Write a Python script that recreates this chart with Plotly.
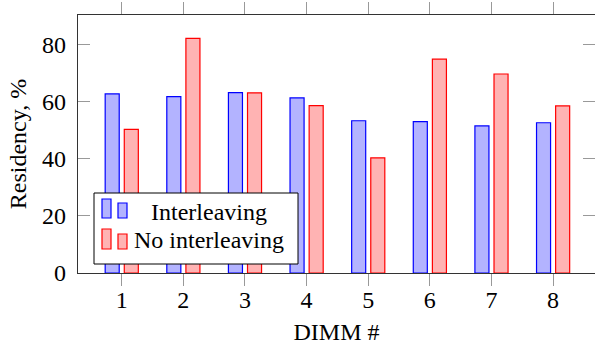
import plotly.graph_objects as go

dimms = [1, 2, 3, 4, 5, 6, 7, 8]
interleaving = [62.8, 61.9, 63.3, 61.4, 53.4, 53.1, 51.6, 52.7]
no_interleaving = [50.4, 82.3, 63.2, 58.7, 40.4, 75.0, 69.8, 58.6]
series_names = ["Interleaving", "No interleaving"]
y_ticks = [0, 20, 40, 60, 80]

FONT = "Liberation Serif"
FS = 24
BLUE_FILL, BLUE_LINE = "#b3b3ff", "#0000ff"
RED_FILL, RED_LINE = "#ffb3b3", "#ff0000"

W, H = 595, 345
L, R, T, B = 78, 0, 15, 72
PW, PH = W - L - R, H - T - B

fig = go.Figure()
fig.add_trace(go.Bar(x=dimms, y=interleaving, name=series_names[0],
                     marker=dict(color=BLUE_FILL, line=dict(color=BLUE_LINE, width=1.2))))
fig.add_trace(go.Bar(x=dimms, y=no_interleaving, name=series_names[1],
                     marker=dict(color=RED_FILL, line=dict(color=RED_LINE, width=1.2))))
# helper trace so the right-side mirrored y ticks render
fig.add_trace(go.Scatter(x=[], y=[], yaxis="y2", showlegend=False, hoverinfo="skip"))

def px_x(p):
    return (p - L) / PW

def px_y(p):
    return (H - B - p) / PH

shapes = []
# legend box
shapes.append(dict(type="rect", xref="paper", yref="paper",
                   x0=px_x(94), x1=px_x(298), y0=px_y(264), y1=px_y(193),
                   fillcolor="white", line=dict(color="black", width=1)))
icons = [
    (BLUE_FILL, BLUE_LINE, 199, 203, 218),
    (RED_FILL, RED_LINE, 229, 234, 249),
]
for fill, line, top1, top2, bot in icons:
    shapes.append(dict(type="rect", xref="paper", yref="paper",
                       x0=px_x(102), x1=px_x(111), y0=px_y(bot), y1=px_y(top1),
                       fillcolor=fill, line=dict(color=line, width=1.2)))
    shapes.append(dict(type="rect", xref="paper", yref="paper",
                       x0=px_x(118), x1=px_x(127), y0=px_y(bot), y1=px_y(top2),
                       fillcolor=fill, line=dict(color=line, width=1.2)))

annotations = [
    dict(text=series_names[0], xref="paper", yref="paper", x=px_x(209), y=px_y(212),
         xanchor="center", yanchor="middle", showarrow=False,
         font=dict(family=FONT, size=FS, color="black")),
    dict(text=series_names[1], xref="paper", yref="paper", x=px_x(209), y=px_y(240),
         xanchor="center", yanchor="middle", showarrow=False,
         font=dict(family=FONT, size=FS, color="black")),
]

fig.update_layout(
    width=W, height=H,
    margin=dict(l=L, r=R, t=T, b=B, autoexpand=False),
    paper_bgcolor="white", plot_bgcolor="white",
    barmode="group", bargap=0.38, bargroupgap=0.265,
    showlegend=False,
    font=dict(family=FONT, size=FS, color="black"),
    shapes=shapes, annotations=annotations,
    xaxis=dict(range=[0.29, 8.68], tickvals=dimms, ticktext=[str(d) for d in dimms],
               ticks="outside", ticklen=12, tickcolor="#999999", tickwidth=1,
               showline=True, linecolor="#333333", linewidth=1.2, mirror="ticks",
               showgrid=False, zeroline=False, ticklabelstandoff=-7,
               title=dict(text="DIMM #", standoff=12, font=dict(family=FONT, size=FS))),
    yaxis=dict(range=[0, 90.5], tickvals=y_ticks, ticks="inside", ticklen=12,
               tickcolor="#999999", tickwidth=1,
               showline=True, linecolor="#333333", linewidth=1.2,
               showgrid=False, zeroline=False, ticklabelstandoff=6,
               title=dict(text="Residency, %", standoff=8, font=dict(family=FONT, size=FS))),
    yaxis2=dict(range=[0, 90.5], tickvals=y_ticks, ticks="inside", ticklen=12,
                tickcolor="#999999", tickwidth=1, overlaying="y", side="right",
                showticklabels=False, showline=False, showgrid=False, zeroline=False),
)

fig.write_html("out.html")
